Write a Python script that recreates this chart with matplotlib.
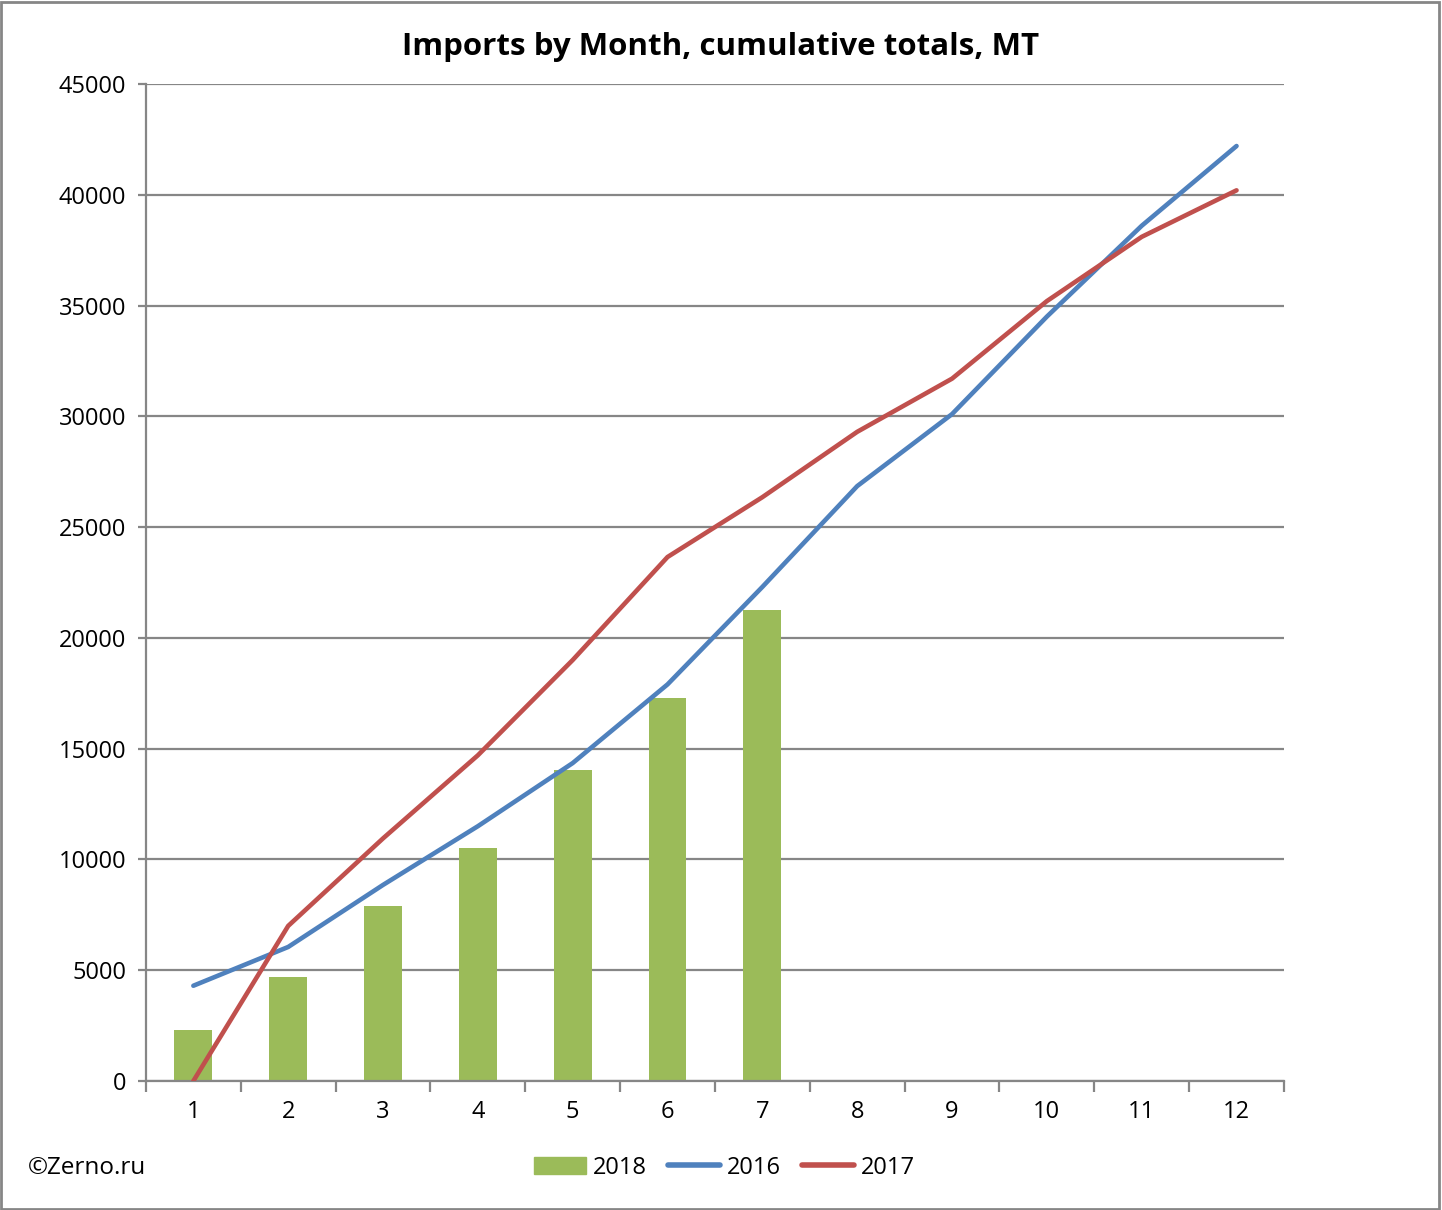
import matplotlib.pyplot as plt
import matplotlib.patches as mpatches
import numpy as np

plt.rcParams['font.family'] = ['Open Sans', 'DejaVu Sans']

months = [1, 2, 3, 4, 5, 6, 7, 8, 9, 10, 11, 12]
imports_2018 = [2300, 4700, 7900, 10500, 14050, 17300, 21250]
imports_2016 = [4300, 6050, 8850, 11500, 14350, 17900, 22300, 26850, 30100, 34500, 38600, 42200]
imports_2017 = [0, 7000, 10950, 14700, 19000, 23650, 26350, 29300, 31700, 35200, 38100, 40200]

green = '#9bbb59'
blue = '#4f81bd'
red = '#c0504d'
grid_col = '#868686'

fig = plt.figure(figsize=(14.42, 12.10), dpi=100)
ax = fig.add_axes([0.1012, 0.1066, 0.7892, 0.824])

ax.bar(months[:len(imports_2018)], imports_2018, width=0.4, color=green, label='2018', zorder=2)
ax.plot(months, imports_2016, color=blue, lw=3.3, solid_capstyle='round', label='2016', zorder=3)
ax.plot(months, imports_2017, color=red, lw=3.3, solid_capstyle='round', label='2017', zorder=3)

ax.set_xlim(0.5, 12.5)
ax.set_ylim(0, 45000)
ax.set_yticks(np.arange(0, 45001, 5000))
ax.set_xticks(months)
ax.set_xticks(np.arange(0.5, 12.6, 1), minor=True)
ax.grid(axis='y', color=grid_col, lw=1.6, zorder=0)
ax.set_axisbelow(True)

for s in ['top', 'right']:
    ax.spines[s].set_visible(False)
for s in ['left', 'bottom']:
    ax.spines[s].set_color(grid_col)
    ax.spines[s].set_linewidth(1.6)

ax.tick_params(axis='y', length=6, width=1.6, color=grid_col, labelsize=17, pad=8)
ax.tick_params(axis='x', which='major', length=0, labelsize=17, pad=14)
ax.tick_params(axis='x', which='minor', length=8, width=1.6, color=grid_col)

fig.text(0.5, 0.961, 'Imports by Month, cumulative totals, MT', ha='center', va='center',
         fontsize=22.5, fontweight='bold')
fig.text(0.019, 0.035, '\u00a9Zerno.ru', ha='left', va='center', fontsize=17.5)

handles = [mpatches.Patch(color=green, label='2018'),
           plt.Line2D([], [], color=blue, lw=4, solid_capstyle='round', label='2016'),
           plt.Line2D([], [], color=red, lw=4, solid_capstyle='round', label='2017')]
fig.legend(handles=handles, loc='center', bbox_to_anchor=(0.5025, 0.035), ncol=3, frameon=False,
           fontsize=17, handlelength=2.2, handletextpad=0.3, columnspacing=0.9)

fig.patches.append(mpatches.Rectangle((0.001, 0.001), 0.997, 0.997, transform=fig.transFigure,
                                      fill=False, edgecolor=grid_col, lw=2))

fig.savefig('out.png', dpi=100)
